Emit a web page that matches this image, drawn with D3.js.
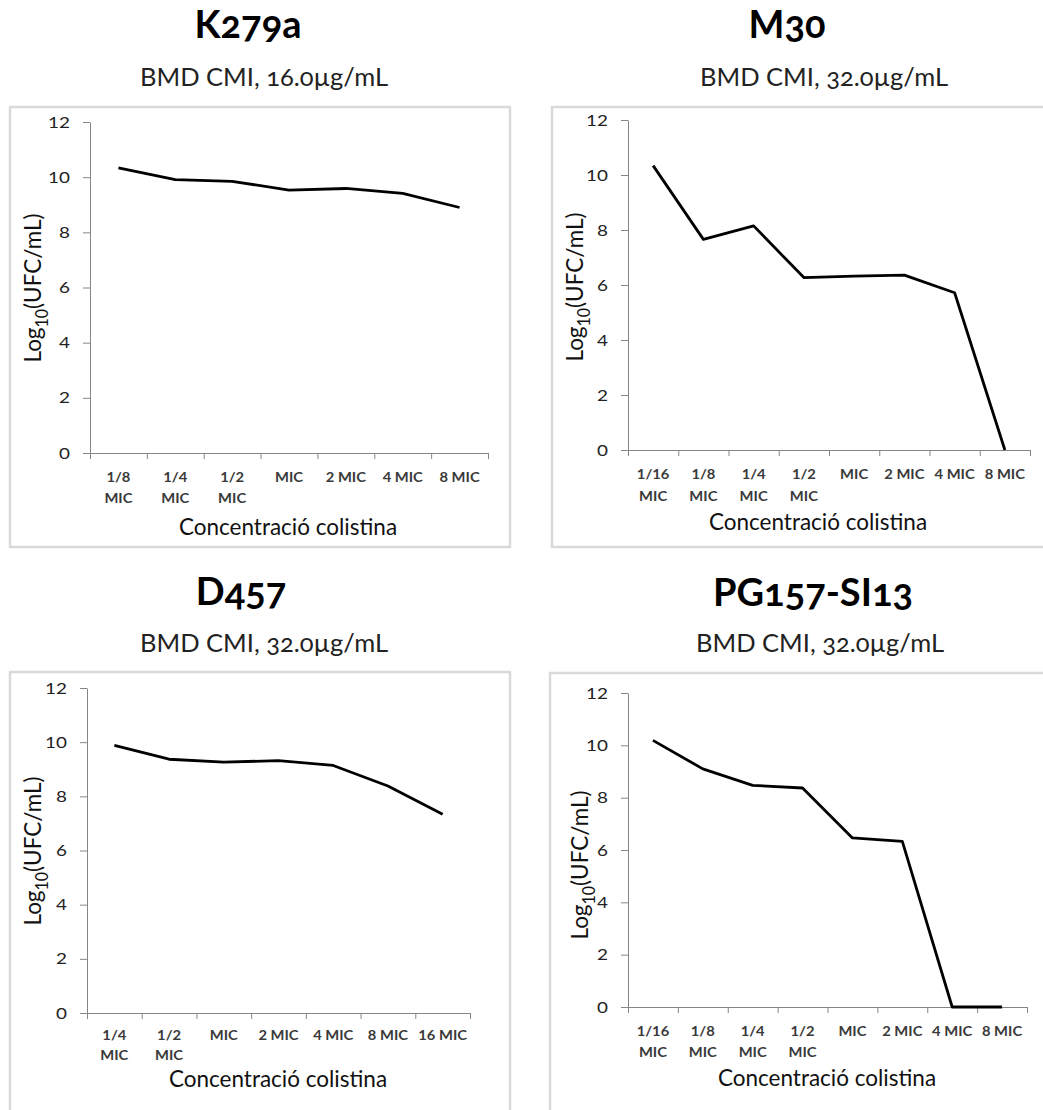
<!DOCTYPE html>
<html>
<head>
<meta charset="utf-8">
<script src="https://cdn.jsdelivr.net/npm/d3@7"></script>
<style>
  body { margin: 0; background: #fff; }
  svg { display: block; }
  text { font-family: Lato, "Open Sans", sans-serif; fill: #000; }
  .title { font-weight: bold; font-size: 38px; font-variant-numeric: oldstyle-nums; font-feature-settings: "onum"; }
  .subtitle { font-size: 25.5px; fill: #222; font-variant-numeric: oldstyle-nums; font-feature-settings: "onum"; }
  .ytick text { font-size: 16px; fill: #222; }
  .xtick { font-size: 12.5px; font-weight: bold; fill: #3a3a3a; }
  .axis-title { font-size: 22.5px; fill: #111; }
</style>
</head>
<body>
<svg id="chart" width="1043" height="1110"></svg>
<script>
// chart data
const titles = ['K279a', 'M30', 'D457', 'PG157-SI13'];
const subtitles = ['BMD CMI, 16.0µg/mL', 'BMD CMI, 32.0µg/mL', 'BMD CMI, 32.0µg/mL', 'BMD CMI, 32.0µg/mL'];

const catsK279a = ['1/8\nMIC', '1/4\nMIC', '1/2\nMIC', 'MIC', '2 MIC', '4 MIC', '8 MIC'];
const valsK279a = [10.34, 9.91, 9.85, 9.53, 9.59, 9.41, 8.90];

const catsM30 = ['1/16\nMIC', '1/8\nMIC', '1/4\nMIC', '1/2\nMIC', 'MIC', '2 MIC', '4 MIC', '8 MIC'];
const valsM30 = [10.34, 7.66, 8.15, 6.27, 6.32, 6.36, 5.72, 0];

const catsD457 = ['1/4\nMIC', '1/2\nMIC', 'MIC', '2 MIC', '4 MIC', '8 MIC', '16 MIC'];
const valsD457 = [9.88, 9.37, 9.26, 9.32, 9.14, 8.38, 7.34];

const catsPG157 = ['1/16\nMIC', '1/8\nMIC', '1/4\nMIC', '1/2\nMIC', 'MIC', '2 MIC', '4 MIC', '8 MIC'];
const valsPG157 = [10.19, 9.10, 8.47, 8.37, 6.46, 6.33, 0, 0];

const yTicks = [0, 2, 4, 6, 8, 10, 12];
const xTitle = 'Concentració colistina';

// layout of the four panels (pixels)
const panels = [
  { title: titles[0], sub: subtitles[0], cats: catsK279a, vals: valsK279a,
    frame: [10, 107, 500, 440], xr: [90, 488], yr: [453, 122], lblY: [29, 50],
    titleAt: [248, 38], subAt: [264, 86], yLabAt: [33, 288], xLabAt: [288, 535] },
  { title: titles[1], sub: subtitles[1], cats: catsM30, vals: valsM30,
    frame: [552, 107, 520, 440], xr: [628, 1030], yr: [450, 120], lblY: [29, 51],
    titleAt: [787, 38], subAt: [824, 86], yLabAt: [575, 287], xLabAt: [818, 530] },
  { title: titles[2], sub: subtitles[2], cats: catsD457, vals: valsD457,
    frame: [10, 672, 500, 460], xr: [87, 470], yr: [1013, 688], lblY: [27, 47],
    titleAt: [241, 605], subAt: [264, 652], yLabAt: [33, 851], xLabAt: [278, 1087] },
  { title: titles[3], sub: subtitles[3], cats: catsPG157, vals: valsPG157,
    frame: [550, 673, 520, 460], xr: [628, 1027], yr: [1007, 693], lblY: [29, 50],
    titleAt: [813, 606], subAt: [820, 652], yLabAt: [580, 865], xLabAt: [827, 1086] }
];

const stretch = 1.18;   // axis text in the picture is a little widened
const svg = d3.select('#chart');

panels.forEach(p => {
  const g = svg.append('g');

  // light frame round the chart area
  g.append('rect')
    .attr('x', p.frame[0]).attr('y', p.frame[1])
    .attr('width', p.frame[2]).attr('height', p.frame[3])
    .attr('fill', '#fff')
    .attr('stroke', '#d9d9d9')
    .attr('stroke-width', 2.5);

  g.append('text').attr('class', 'title')
    .attr('x', p.titleAt[0]).attr('y', p.titleAt[1])
    .attr('text-anchor', 'middle')
    .text(p.title);

  g.append('text').attr('class', 'subtitle')
    .attr('x', p.subAt[0]).attr('y', p.subAt[1])
    .attr('text-anchor', 'middle')
    .text(p.sub);

  const x = d3.scaleBand().domain(p.cats).range(p.xr);
  const xEdges = d3.scaleLinear().domain([0, p.cats.length]).range(p.xr);
  const y = d3.scaleLinear().domain([0, 12]).range(p.yr);

  // y axis
  const yAxis = g.append('g')
    .attr('class', 'ytick')
    .attr('transform', `translate(${p.xr[0]},0)`)
    .call(d3.axisLeft(y).tickValues(yTicks).tickSize(7).tickSizeOuter(0).tickPadding(13));
  yAxis.selectAll('line, path').attr('stroke', '#868686');
  yAxis.selectAll('text')
    .attr('transform', `translate(-20,0) scale(${stretch},1)`)
    .attr('x', 0);

  // x axis: ticks on category edges
  const xAxis = g.append('g')
    .attr('transform', `translate(0,${p.yr[0]})`)
    .call(d3.axisBottom(xEdges).tickValues(d3.range(p.cats.length + 1))
      .tickFormat('').tickSize(6).tickSizeOuter(0));
  xAxis.selectAll('line, path').attr('stroke', '#868686');

  // category labels, one or two lines
  const lbl = g.append('g').selectAll('text')
    .data(p.cats)
    .join('text')
    .attr('class', 'xtick')
    .attr('text-anchor', 'middle')
    .attr('transform', d => `translate(${x(d) + x.bandwidth() / 2},${p.yr[0]}) scale(${stretch},1)`);
  lbl.selectAll('tspan')
    .data(d => d.split('\n'))
    .join('tspan')
    .attr('x', 0)
    .attr('y', (d, i) => p.lblY[i])
    .text(d => d);

  // axis titles
  const yl = g.append('text').attr('class', 'axis-title')
    .attr('text-anchor', 'middle')
    .attr('transform', `translate(${p.yLabAt[0]},${p.yLabAt[1]}) scale(1.05,1) rotate(-90)`)
    .attr('dy', '0.35em');
  yl.append('tspan').text('Log');
  yl.append('tspan').attr('font-size', '16px').attr('dy', 6).text('10');
  yl.append('tspan').attr('dy', -6).text('(UFC/mL)');

  g.append('text').attr('class', 'axis-title')
    .attr('x', p.xLabAt[0]).attr('y', p.xLabAt[1])
    .attr('text-anchor', 'middle')
    .text(xTitle);

  // the curve
  const line = d3.line()
    .x((d, i) => x(p.cats[i]) + x.bandwidth() / 2)
    .y(d => y(d));

  g.append('path')
    .datum(p.vals)
    .attr('d', line)
    .attr('fill', 'none')
    .attr('stroke', '#000')
    .attr('stroke-width', 2.8)
    .attr('stroke-linejoin', 'round');
});
</script>
</body>
</html>
